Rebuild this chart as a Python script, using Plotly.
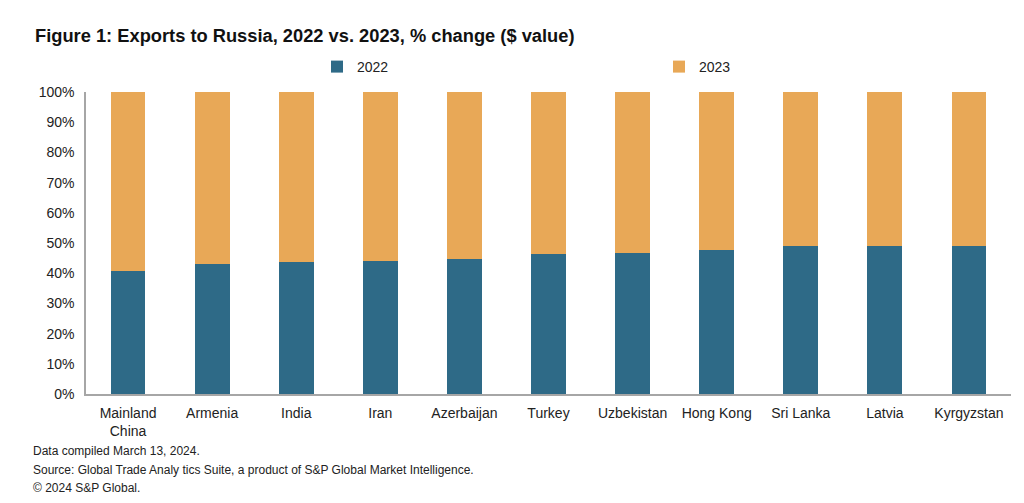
import plotly.graph_objects as go

categories = ["Mainland<br>China", "Armenia", "India", "Iran", "Azerbaijan", "Turkey",
              "Uzbekistan", "Hong Kong", "Sri Lanka", "Latvia", "Kyrgyzstan"]
share_2022 = [40.8, 43.2, 43.8, 44.2, 44.7, 46.2, 46.7, 47.6, 49.1, 49.1, 49.0]
share_2023 = [round(100 - v, 1) for v in share_2022]

BLUE = "#2E6A87"
ORANGE = "#E8A857"

# page body has an 8px margin: figure is sized to fill the rest of the window
W, H = 1016, 495
OFF = 8
PL, PR, PT, PB = 78, 13, 84, 109
PW = W - PL - PR
PH = H - PT - PB

fig = go.Figure()
fig.add_trace(go.Bar(x=categories, y=share_2022, name="2022", marker_color=BLUE,
                     marker_line_width=0, legend="legend"))
fig.add_trace(go.Bar(x=categories, y=share_2023, name="2023", marker_color=ORANGE,
                     marker_line_width=0, legend="legend2"))

leg_common = dict(orientation="h", yanchor="middle", font=dict(size=14),
                  itemwidth=30, bgcolor="rgba(0,0,0,0)", borderwidth=0)
leg_y = 1 + (PT + OFF - 67) / PH

fig.update_layout(
    barmode="stack",
    bargap=0.585,
    width=W, height=H,
    margin=dict(l=PL, r=PR, t=PT, b=PB, autoexpand=False),
    paper_bgcolor="white", plot_bgcolor="white",
    font=dict(family="Liberation Sans, Arial, sans-serif", size=14, color="#222222"),
    title=dict(text="<b>Figure 1: Exports to Russia, 2022 vs. 2023, % change ($ value)</b>",
               xref="container", yref="container",
               x=(35 - OFF) / W, xanchor="left", y=1 - (36 - OFF) / H, yanchor="middle",
               pad=dict(l=0, r=0, t=0, b=0),
               font=dict(size=18.3, color="#111111")),
    legend=dict(x=(317 - OFF - PL) / PW, xanchor="left", y=leg_y, **leg_common),
    legend2=dict(x=(659 - OFF - PL) / PW, xanchor="left", y=leg_y, **leg_common),
    showlegend=True,
)
fig.update_xaxes(showline=True, linecolor="#A6A6A6", linewidth=1.5, ticks="",
                 showgrid=False, tickfont=dict(size=14), tickangle=0, automargin=False,
                 ticklabelstandoff=5)
fig.update_yaxes(range=[0, 100], tickvals=list(range(0, 101, 10)),
                 ticktext=[f"{v}%" for v in range(0, 101, 10)],
                 showline=True, linecolor="#A6A6A6", linewidth=1.5, ticks="",
                 showgrid=False, zeroline=False, tickfont=dict(size=14), automargin=False,
                 ticklabelstandoff=7)

notes = ["Data compiled March 13, 2024.",
         "Source: Global Trade Analy tics Suite, a product of S&P Global Market Intelligence.",
         "© 2024 S&P Global."]
for i, t in enumerate(notes):
    fig.add_annotation(text=t, xref="paper", yref="paper", x=(31 - OFF - PL) / PW, xanchor="left",
                       y=-(451 - 394 + i * 18.5) / PH, yanchor="middle", showarrow=False,
                       font=dict(size=12, color="#222222"))

fig.write_html("out.html")
